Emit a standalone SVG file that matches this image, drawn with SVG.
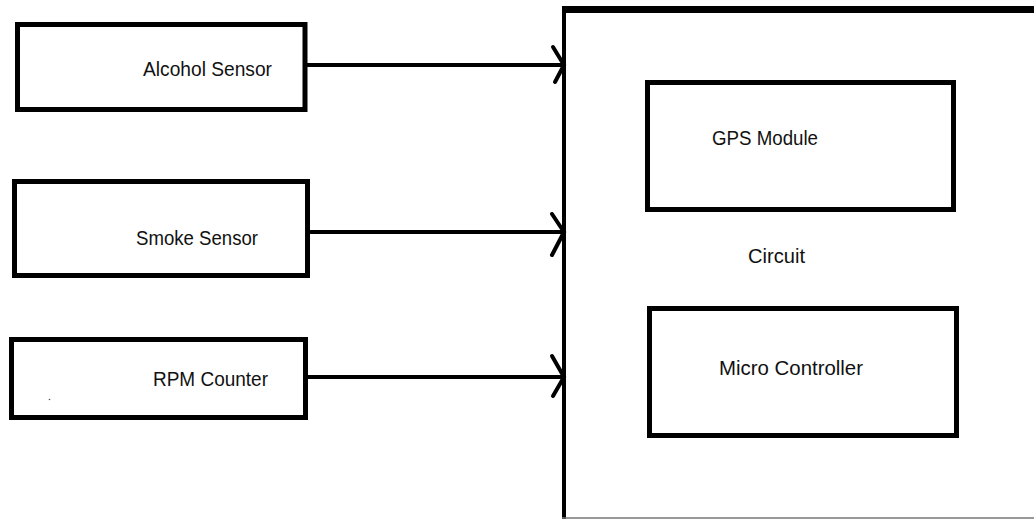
<svg xmlns="http://www.w3.org/2000/svg" width="1034" height="519" viewBox="0 0 1034 519">
<style>
.box{fill:#fff;stroke:#000;stroke-width:5}
.lbl{font-family:"Liberation Sans Narrow","Liberation Sans",Arial,sans-serif;font-size:21px;fill:#111}
.conn{stroke:#000;stroke-width:4;fill:none}
.head{stroke:#000;stroke-width:4;fill:none;stroke-linecap:round}
</style>
<rect width="1034" height="519" fill="#fff"/>
<g id="circuit">
<path d="M564 519 V10 H1040" fill="none" stroke="#000" stroke-width="4"/>
<line x1="562" y1="9.5" x2="1040" y2="9.5" stroke="#000" stroke-width="7"/>
<line x1="562" y1="518" x2="1040" y2="518" stroke="#777" stroke-width="1.5"/>
<text class="lbl" x="748" y="263" textLength="57" lengthAdjust="spacingAndGlyphs">Circuit</text>
</g>
<g id="alcohol">
<rect class="box" x="17.5" y="24.5" width="287.5" height="85"/>
<text class="lbl" x="143" y="76" textLength="129" lengthAdjust="spacingAndGlyphs">Alcohol Sensor</text>
</g>
<g id="smoke">
<rect class="box" x="14.5" y="181.5" width="293" height="94"/>
<text class="lbl" x="136" y="245" textLength="122" lengthAdjust="spacingAndGlyphs">Smoke Sensor</text>
</g>
<g id="rpm">
<rect class="box" x="11.5" y="339.5" width="294" height="78"/>
<text class="lbl" x="153" y="386" textLength="115" lengthAdjust="spacingAndGlyphs">RPM Counter</text>
<circle cx="49.5" cy="399.5" r="0.8" fill="#555"/>
</g>
<g id="gps">
<rect class="box" x="647.5" y="82.5" width="306" height="127"/>
<text class="lbl" x="712" y="145" textLength="106" lengthAdjust="spacingAndGlyphs">GPS Module</text>
</g>
<g id="micro">
<rect class="box" x="649.5" y="308.5" width="307" height="127"/>
<text class="lbl" x="719" y="375" textLength="144" lengthAdjust="spacingAndGlyphs">Micro Controller</text>
</g>
<g id="connectors">
<line class="conn" x1="307" y1="65" x2="564" y2="65"/>
<polyline class="head" points="553,47 564,65 555,82"/>
<line class="conn" x1="310" y1="232" x2="564" y2="232"/>
<polyline class="head" points="552,214 564,232 552,255"/>
<line class="conn" x1="308" y1="377" x2="564" y2="377"/>
<polyline class="head" points="552,356 564,377 553,396"/>
</g>
</svg>
